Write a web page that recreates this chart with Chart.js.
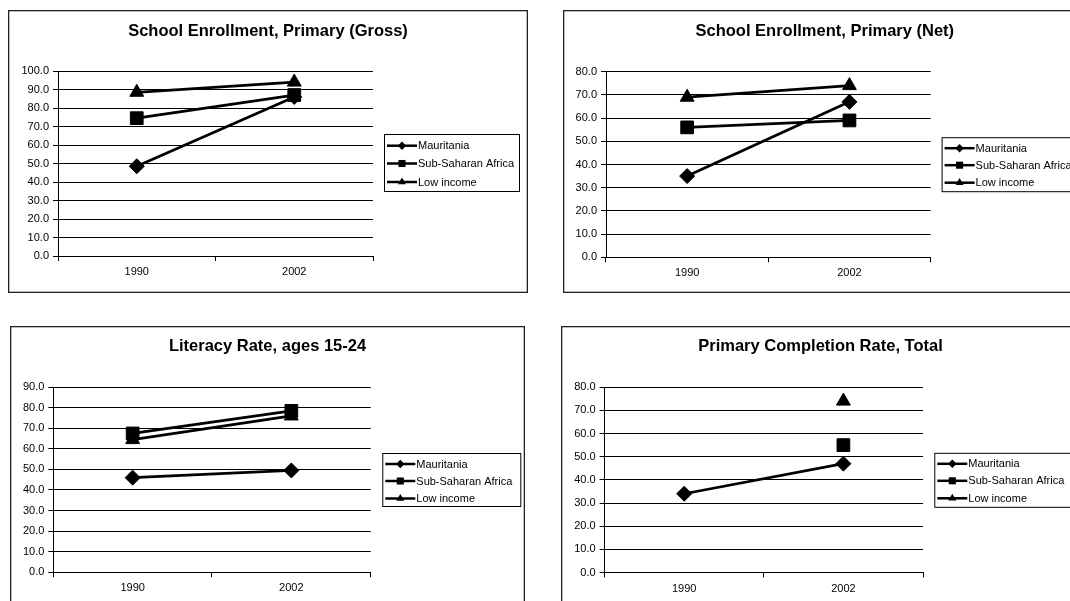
<!DOCTYPE html>
<html><head><meta charset="utf-8">
<script src="https://cdn.jsdelivr.net/npm/chart.js@4.4.1/dist/chart.umd.min.js"></script>
<style>
html,body{margin:0;padding:0;background:#fff;width:1070px;height:601px;overflow:hidden;position:relative}
canvas{position:absolute;display:block}
</style></head><body>
<canvas id="c1"></canvas><canvas id="c2"></canvas><canvas id="c3"></canvas><canvas id="c4"></canvas>
<script>
// ---- data ----
const years = ['1990', '2002'];
const seriesNames = ['Mauritania', 'Sub-Saharan Africa', 'Low income'];
const chartTitles = ['School Enrollment, Primary (Gross)', 'School Enrollment, Primary (Net)', 'Literacy Rate, ages 15-24', 'Primary Completion Rate, Total'];
const yAxisMax = [100, 80, 90, 80];
const yAxisStep = 10;

const grossMauritania = [48.5, 86];
const grossSubSaharan = [74.5, 87];
const grossLowIncome  = [88.5, 94];

const netMauritania = [35, 67];
const netSubSaharan = [56, 59];
const netLowIncome  = [69, 74];

const literacyMauritania = [46, 49.5];
const literacySubSaharan = [67.5, 78.5];
const literacyLowIncome  = [64.5, 76];

const completionMauritania = [34, 47];
const completionSubSaharan = [null, 55];
const completionLowIncome  = [null, 74];

const panelSeries = [
  [grossMauritania, grossSubSaharan, grossLowIncome],
  [netMauritania, netSubSaharan, netLowIncome],
  [literacyMauritania, literacySubSaharan, literacyLowIncome],
  [completionMauritania, completionSubSaharan, completionLowIncome]
];

// ---- layout / style ----
const FONT = '"Liberation Sans", Arial, Helvetica, sans-serif';
Chart.defaults.font.family = FONT;
Chart.defaults.font.size = 11;
Chart.defaults.color = '#000';

const pointStyles = ['rectRot', 'rect', 'triangle'];
const pointRadii = [7.5, 9, 8];
const legendMarkerR = [4.2, 5, 4.6];

const panels = [
  {id:'c1', left:8,   top:10,    w:520, h:283, pad:{left:10,  right:155,   top:61,   bottom:12},   titleX:260,   titleY:21,
   legend:{x:376,   y:124,   w:135, h:57, rows:[11.7, 29.5, 48]}},
  {id:'c2', left:563, top:10,    w:520, h:283, pad:{left:3,   right:152.4, top:61.7, bottom:10.7}, titleX:261.8, titleY:21,
   legend:{x:378.6, y:127.2, w:140, h:54, rows:[11, 28, 45.5]}},
  {id:'c3', left:10,  top:325.5, w:515, h:283, pad:{left:3.3, right:154.3, top:61.2, bottom:11.8}, titleX:257.5, titleY:20.5,
   legend:{x:372.3, y:127,   w:138, h:53, rows:[11, 28, 45.5]}},
  {id:'c4', left:561, top:325.5, w:520, h:283, pad:{left:3.6, right:158,   top:61.2, bottom:11.5}, titleX:259.5, titleY:20.5,
   legend:{x:373.3, y:126.8, w:140, h:54, rows:[11, 28, 45.5]}}
];

function marker(ctx, style, x, y, r) {
  ctx.beginPath();
  if (style === 'rectRot') {
    ctx.moveTo(x - r, y); ctx.lineTo(x, y - r); ctx.lineTo(x + r, y); ctx.lineTo(x, y + r);
  } else if (style === 'rect') {
    const s = r * Math.SQRT1_2;
    ctx.rect(x - s, y - s, 2 * s, 2 * s);
  } else {
    const hw = r * Math.sqrt(3) / 2;
    ctx.moveTo(x, y - r); ctx.lineTo(x + hw, y + r / 2); ctx.lineTo(x - hw, y + r / 2);
  }
  ctx.closePath();
  ctx.fill();
}

const decor = {
  id: 'decor',
  afterDraw(chart, args, o) {
    const ctx = chart.ctx;
    ctx.save();
    ctx.strokeStyle = '#222';
    ctx.lineWidth = 1.3;
    ctx.strokeRect(0.65, 0.65, chart.width - 1.3, chart.height - 1.3);
    ctx.fillStyle = '#000';
    ctx.font = 'bold 16.5px ' + FONT;
    ctx.textAlign = 'center';
    ctx.textBaseline = 'middle';
    ctx.fillText(o.title, o.titleX, o.titleY);
    const L = o.legend;
    ctx.strokeStyle = '#000';
    ctx.lineWidth = 1;
    ctx.strokeRect(L.x + 0.5, L.y + 0.5, L.w, L.h);
    ctx.font = '11px ' + FONT;
    ctx.textAlign = 'left';
    chart.data.datasets.forEach((ds, i) => {
      const y = L.y + L.rows[i];
      ctx.beginPath();
      ctx.lineWidth = 2.5;
      ctx.moveTo(L.x + 3, y); ctx.lineTo(L.x + 33, y);
      ctx.stroke();
      marker(ctx, ds.pointStyle, L.x + 18, y, legendMarkerR[i]);
      ctx.fillText(ds.label, L.x + 34, y + 0.5);
    });
    ctx.restore();
  }
};

panels.forEach((p, k) => {
  const cv = document.getElementById(p.id);
  cv.width = p.w; cv.height = p.h;
  cv.style.left = p.left + 'px'; cv.style.top = p.top + 'px';
  cv.style.width = p.w + 'px'; cv.style.height = p.h + 'px';
  new Chart(cv, {
    type: 'line',
    data: {
      labels: years,
      datasets: panelSeries[k].map((vals, i) => ({
        label: seriesNames[i],
        data: vals,
        borderColor: '#000',
        backgroundColor: '#000',
        borderWidth: 2.75,
        pointStyle: pointStyles[i],
        pointRadius: pointRadii[i],
        pointHoverRadius: pointRadii[i],
        pointBackgroundColor: '#000',
        pointBorderColor: '#000',
        pointBorderWidth: 1,
        tension: 0,
        spanGaps: false,
        clip: false
      }))
    },
    options: {
      responsive: false,
      animation: false,
      devicePixelRatio: 1,
      events: [],
      layout: { padding: p.pad },
      plugins: {
        legend: { display: false },
        title: { display: false },
        tooltip: { enabled: false },
        decor: { title: chartTitles[k], titleX: p.titleX, titleY: p.titleY, legend: p.legend }
      },
      scales: {
        x: {
          type: 'category',
          offset: true,
          afterFit: s => { s.height = 25; },
          grid: { offset: true, drawOnChartArea: false, drawTicks: true, tickLength: 5, color: '#000', lineWidth: 1 },
          border: { display: true, color: '#000', width: 1 },
          ticks: { padding: 4.5, color: '#000', font: { size: 11 }, maxRotation: 0 }
        },
        y: {
          min: 0,
          max: yAxisMax[k],
          afterFit: s => { s.width = 40; },
          grid: { drawTicks: true, tickLength: 5, color: '#000', lineWidth: 1 },
          border: { display: true, color: '#000', width: 1 },
          ticks: { stepSize: yAxisStep, padding: 4, color: '#000', font: { size: 11 }, autoSkip: false,
                   callback: v => Number(v).toFixed(1) }
        }
      }
    },
    plugins: [decor]
  });
});
</script>
</body></html>
